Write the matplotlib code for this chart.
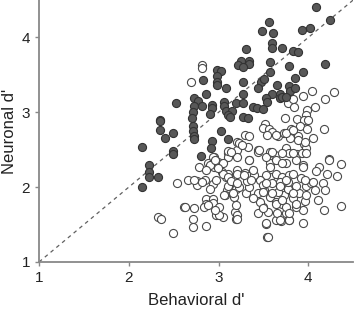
import numpy as np
import matplotlib.pyplot as plt

plt.rcParams['font.family'] = ['Liberation Sans', 'DejaVu Sans']

# values (behavioral d', neuronal d')
filled_x = [4.08, 4.24, 3.56, 3.48, 3.61, 3.93, 4.02, 3.60, 3.59, 3.71, 3.30, 3.83, 3.88,
            3.25, 3.34, 3.34, 3.22, 3.27, 3.57, 3.79, 4.18, 2.98, 3.03, 2.98, 3.57, 3.94,
            2.83, 2.98, 2.98, 3.27, 3.47, 3.51, 3.85, 3.65, 3.08, 3.44, 3.79, 3.80, 3.85,
            3.27, 2.86, 3.59, 3.68, 3.68, 3.71, 3.75, 3.53, 3.54, 2.73, 2.77, 2.53, 2.73,
            2.81, 2.93, 3.06, 3.19, 3.27, 3.06, 3.38, 3.43, 3.49, 2.93, 2.71, 3.08, 3.15,
            2.91, 3.10, 3.13, 3.27, 3.33, 2.70, 2.71, 2.72, 2.73, 2.73, 3.03, 2.49, 2.93,
            3.10, 2.92, 2.49, 2.49, 2.80, 2.35, 2.35, 2.35, 2.40, 2.15, 2.23, 2.23, 2.23,
            2.32, 2.15]
filled_y = [4.40, 4.23, 4.21, 4.08, 4.06, 4.10, 4.12, 3.93, 3.86, 3.86, 3.85, 3.82, 3.81,
            3.68, 3.69, 3.65, 3.63, 3.61, 3.67, 3.62, 3.64, 3.57, 3.55, 3.49, 3.54, 3.54,
            3.43, 3.41, 3.37, 3.40, 3.41, 3.44, 3.46, 3.37, 3.32, 3.32, 3.35, 3.29, 3.33,
            3.24, 3.24, 3.24, 3.24, 3.19, 3.20, 3.20, 3.19, 3.14, 3.19, 3.15, 3.13, 3.08,
            3.08, 3.10, 3.14, 3.12, 3.12, 3.09, 3.07, 3.06, 3.04, 3.06, 3.00, 3.02, 3.02,
            2.98, 2.96, 2.94, 2.94, 2.93, 2.92, 2.81, 2.75, 2.68, 2.64, 2.75, 2.72, 2.62,
            2.64, 2.52, 2.48, 2.44, 2.41, 2.90, 2.88, 2.76, 2.66, 2.54, 2.29, 2.20, 2.13,
            2.13, 2.00]

open_x = [2.54, 2.32, 2.36, 2.49, 3.20, 2.95, 3.10, 3.11, 3.21, 2.99, 2.88, 2.78, 2.95,
          3.04, 3.11, 3.20, 3.08, 3.16, 3.21, 2.66, 2.76, 2.85, 2.76, 2.94, 2.97, 2.91,
          3.09, 3.19, 3.07, 3.17, 2.86, 2.94, 2.86, 2.94, 2.84, 3.00, 2.62, 2.73, 2.97,
          3.05, 3.18, 3.19, 2.72, 2.71, 2.86,
          2.81, 2.81, 2.69, 4.04, 4.29, 4.18, 3.94, 3.77, 3.83, 3.84, 3.98, 4.07, 3.97,
          3.74, 3.87, 3.95, 4.00, 3.52, 3.50, 3.56, 3.59, 3.66, 3.91, 3.98, 4.17, 3.81,
          3.73, 3.80, 3.89, 4.05, 3.29, 3.34, 3.54, 3.23, 3.33, 3.44, 3.11, 2.94, 3.57,
          3.63, 3.75, 3.79, 3.87, 3.95, 3.97, 3.93, 4.23,
          2.73, 2.82, 2.63, 3.54, 3.53, 3.94, 3.64, 3.70, 3.79, 4.36, 4.17, 4.36, 4.32,
          4.23, 4.21, 4.12, 4.09, 4.11, 3.94, 3.96, 3.86, 3.75, 3.65, 3.55, 3.44, 3.49,
          3.21, 3.21, 3.00, 2.96, 2.88, 3.19, 3.06, 3.16, 3.31, 3.23, 3.34, 3.10, 3.05,
          3.10, 3.20, 3.29, 3.34, 3.32, 3.14, 3.21, 3.44, 3.51, 3.57, 3.64, 3.71, 3.83,
          3.90, 3.73, 3.66, 3.77, 3.86, 3.97, 4.03, 3.57, 3.53, 3.64, 3.71, 3.79, 3.92,
          3.68, 3.77, 3.60, 3.57, 3.64, 3.75, 3.86, 3.94, 3.53, 3.71, 3.44, 3.34, 3.21,
          3.14, 3.05, 2.99, 2.90, 2.96, 2.86, 3.46, 3.40, 3.46, 3.49,
          3.45, 3.60, 3.26, 3.34, 3.38, 3.28, 3.36, 3.38, 3.49, 3.53, 3.55, 3.68, 3.79,
          3.75, 3.57, 3.71, 3.83, 3.88, 3.75, 3.64, 3.83, 3.68, 3.53, 3.60, 3.83, 3.75,
          3.83, 3.49, 3.64, 3.71, 3.79, 3.86,
          3.96, 3.97, 3.94, 3.96, 4.05, 4.16, 4.19, 4.07, 3.97]
open_y = [2.06, 1.60, 1.57, 1.39, 2.60, 2.40, 2.46, 2.40, 2.50, 2.34, 2.32, 2.27, 2.27,
          2.20, 2.18, 2.23, 2.14, 2.09, 2.03, 2.09, 2.08, 2.10, 2.03, 2.04, 2.09, 1.98,
          1.96, 1.98, 1.89, 1.87, 1.84, 1.84, 1.77, 1.79, 1.74, 1.73, 1.73, 1.72, 1.63,
          1.60, 1.67, 1.57, 1.57, 1.47, 1.48,
          3.63, 3.59, 3.40, 3.29, 3.27, 3.18, 3.22, 3.12, 3.18, 3.07, 3.03, 3.07, 2.97,
          2.92, 2.91, 2.89, 2.90, 2.84, 2.79, 2.77, 2.74, 2.68, 2.81, 2.78, 2.78, 2.78,
          2.72, 2.66, 2.68, 2.65, 2.69, 2.68, 2.69, 2.59, 2.54, 2.49, 2.48, 2.40, 2.47,
          2.43, 2.52, 2.46, 2.44, 2.58, 2.52, 2.45, 2.38,
          2.09, 2.07, 1.73, 1.33, 1.51, 1.52, 1.56, 1.55, 1.56, 1.75, 1.70, 2.31, 2.15,
          2.36, 2.18, 2.27, 2.22, 1.83, 1.69, 1.82, 1.74, 1.66, 1.65, 1.67, 1.65, 1.73,
          1.63, 1.58, 1.63, 1.69, 1.76, 1.76, 1.89, 1.92, 1.92, 2.00, 2.00, 2.01, 2.18,
          2.14, 2.17, 2.19, 2.15, 2.08, 2.08, 2.05, 1.92, 1.96, 1.87, 1.80, 1.78, 1.85,
          1.92, 1.89, 1.94, 1.98, 2.01, 2.01, 2.05, 2.14, 2.16, 2.18, 2.14, 2.16, 2.12,
          2.07, 2.07, 2.05, 2.32, 2.36, 2.32, 2.36, 2.29, 2.40, 2.45, 2.47, 2.36, 2.40,
          2.47, 2.32, 2.25, 2.29, 2.36, 2.23, 2.09, 2.16, 1.80, 2.03,
          2.49, 2.47, 2.56, 2.36, 2.23, 2.16, 2.09, 1.85, 1.72, 1.52, 1.33, 1.56, 1.56,
          1.74, 2.27, 2.32, 2.45, 2.63, 2.72, 2.69, 2.76, 2.01, 2.05, 1.92, 1.92, 2.09,
          2.18, 1.94, 1.78, 1.83, 1.65, 1.78,
          2.60, 2.45, 2.27, 2.09, 2.07, 2.05, 1.96, 1.96, 1.89]

unity = [1, 4.5]
x_ticks = [1, 2, 3, 4]
y_ticks = [1, 2, 3, 4]

fig = plt.figure(figsize=(3.55, 3.10), dpi=100)
ax = fig.add_axes([0.110, 0.155, 0.885, 0.845])

ax.plot(unity, unity, ls=(0, (3, 3)), color='#606060', lw=0.9, zorder=1)
ax.scatter(open_x, open_y, s=34, facecolor='white', edgecolor='#4a4a4a', linewidths=0.8, zorder=2)
ax.scatter(filled_x, filled_y, s=34, facecolor='#585858', edgecolor='#333333', linewidths=0.8, zorder=3)

ax.set_xlim(1, 4.5)
ax.set_ylim(1, 4.5)
ax.set_xticks(x_ticks)
ax.set_yticks(y_ticks)
for side in ['top', 'right']:
    ax.spines[side].set_visible(False)
for side in ['left', 'bottom']:
    ax.spines[side].set_color('#888888')
    ax.spines[side].set_linewidth(1.3)
ax.tick_params(colors='#888888', width=1, length=3, labelcolor='#222222', labelsize=11)
ax.set_xlabel("Behavioral d'", fontsize=12, color='#222222', labelpad=6)
ax.set_ylabel("Neuronal d'", fontsize=12, color='#222222', labelpad=3)

plt.savefig('out.png', dpi=100)
